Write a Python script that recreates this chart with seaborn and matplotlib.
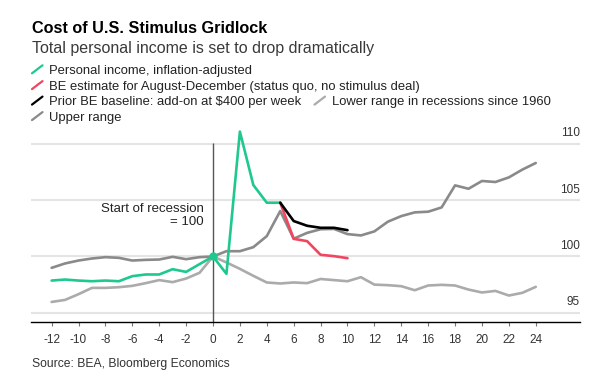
import matplotlib
matplotlib.use("Agg")
import matplotlib.pyplot as plt
import matplotlib.transforms as mtransforms
from matplotlib.lines import Line2D
import seaborn as sns

# Data (months from start of recession, index: start of recession = 100)
months_all = list(range(-12, 25))
upper_range = [98.99, 99.38, 99.64, 99.82, 99.94, 99.88, 99.64, 99.70, 99.73, 99.97, 99.76, 99.94,
               100.0,
               100.47, 100.47, 100.83, 101.81, 104.04, 101.58, 102.10, 102.42, 102.45, 101.99, 101.87, 102.23,
               103.09, 103.59, 103.92, 103.98, 104.36, 106.32, 106.02, 106.71, 106.62, 107.03, 107.72, 108.31]
lower_range = [95.96, 96.14, 96.65, 97.21, 97.21, 97.27, 97.39, 97.63, 97.90, 97.72, 98.04, 98.55,
               100.0,
               99.47, 98.90, 98.28, 97.69, 97.60, 97.69, 97.63, 98.00, 97.90, 97.80, 98.16, 97.50,
               97.45, 97.36, 97.00, 97.42, 97.48, 97.42, 97.06, 96.80, 96.94, 96.53, 96.77, 97.30]

months_income = list(range(-12, 6))
personal_income = [97.86, 97.95, 97.86, 97.80, 97.86, 97.80, 98.25, 98.40, 98.40, 98.87, 98.63, 99.32,
                   100.0, 98.46, 111.10, 106.35, 104.78, 104.78]

months_be = list(range(5, 11))
be_estimate = [104.78, 101.57, 101.36, 100.15, 100.03, 99.85]
prior_baseline = [104.78, 103.15, 102.73, 102.55, 102.55, 102.34]

x_ticks = list(range(-12, 25, 2))
y_ticks = [95, 100, 105, 110]

GREEN = "#1fc98e"
RED = "#f2455f"
BLACK = "#000000"
GRAY_LO = "#ababab"
GRAY_UP = "#8a8a8a"

sns.set_theme(style="white")
plt.rcParams['font.family'] = ['Liberation Sans', 'DejaVu Sans']
plt.rcParams['axes.unicode_minus'] = False

W, H = 598, 388
fig = plt.figure(figsize=(W / 100, H / 100), dpi=100)


def px(x, y):
    return x / W, 1 - y / H


ax = fig.add_axes([30.5 / W, 1 - 322.3 / H, (580 - 30.5) / W, (322.3 - 128) / H])
ax.set_xlim(-13.57, 27.29)
ax.set_ylim(94.15, 111.42)

for v in y_ticks:
    ax.axhline(v, color="#e4e4e4", lw=1.5, zorder=0)

ax.vlines(0, 94.15, 110.1, color="#555555", lw=1, zorder=1)

lw = 1.9
sns.lineplot(x=months_all, y=lower_range, ax=ax, color=GRAY_LO, lw=lw, zorder=2)
sns.lineplot(x=months_all, y=upper_range, ax=ax, color=GRAY_UP, lw=lw, zorder=3)
sns.lineplot(x=months_income, y=personal_income, ax=ax, color=GREEN, lw=lw, zorder=4)
sns.lineplot(x=months_be, y=be_estimate, ax=ax, color=RED, lw=lw, zorder=5)
sns.lineplot(x=months_be, y=prior_baseline, ax=ax, color=BLACK, lw=lw, zorder=6)
ax.plot([months_income[12]], [personal_income[12]], "o", color=GREEN, ms=5, zorder=7)

ax.text(-0.67, 103.97, "Start of recession", ha="right", va="baseline", fontsize=9.5, color="#222222")
ax.text(-0.67, 102.78, "= 100", ha="right", va="baseline", fontsize=9.5, color="#222222")

# axes styling
for s in ["left", "right", "top"]:
    ax.spines[s].set_visible(False)
ax.spines["bottom"].set_color("black")
ax.spines["bottom"].set_linewidth(1)
ax.set_xticks(x_ticks)
ax.set_xticklabels([str(t) for t in x_ticks])
ax.tick_params(axis="x", bottom=True, direction="out", length=3, width=0.8, color="#777777",
               pad=5.5, labelsize=8.5, labelcolor="#333333")
ax.set_yticks([])

offset = mtransforms.ScaledTranslation(0, 7.5 / 100, fig.dpi_scale_trans)
trans = mtransforms.blended_transform_factory(ax.transAxes, ax.transData) + offset
for v in y_ticks:
    ax.text(1.0, v, str(v), transform=trans, ha="right", va="baseline", fontsize=8.5, color="#333333")

# title, subtitle, source
fig.text(*px(31.5, 33.3), "Cost of U.S. Stimulus Gridlock", fontsize=11.7, weight="bold",
         va="baseline", color="black")
fig.text(*px(31.5, 52.7), "Total personal income is set to drop dramatically", fontsize=11.5,
         va="baseline", color="#3a3a3a")
fig.text(*px(31.7, 366.7), "Source: BEA, Bloomberg Economics", fontsize=8.7, va="baseline",
         color="#333333")

# legend
legend_items = [
    ("Personal income, inflation-adjusted", GREEN, 32, 74),
    ("BE estimate for August-December (status quo, no stimulus deal)", RED, 32, 89.8),
    ("Prior BE baseline: add-on at $400 per week", BLACK, 32, 105.3),
    ("Lower range in recessions since 1960", GRAY_LO, 314.5, 105.3),
    ("Upper range", GRAY_UP, 32, 120.8),
]
for label, color, x0, base in legend_items:
    xa, ya = px(x0, base - 0.7)
    xb, yb = px(x0 + 10.5, base - 8.7)
    fig.add_artist(Line2D([xa, xb], [ya, yb], transform=fig.transFigure, color=color, lw=1.6))
    fig.text(*px(x0 + 17, base), label, fontsize=9.4, va="baseline", color="#222222")

fig.savefig("out.png", dpi=100)
